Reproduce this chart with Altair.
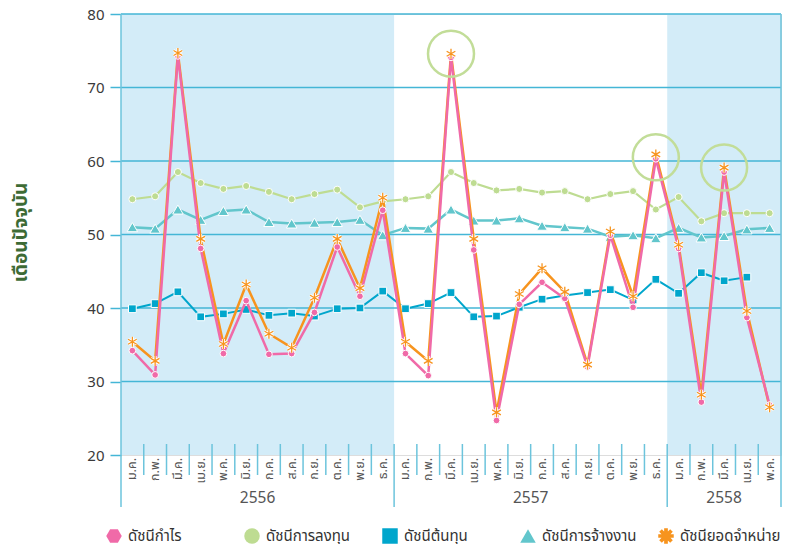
import math
import altair as alt
import pandas as pd

months = ["ม.ค.", "ก.พ.", "มี.ค.", "เม.ย.", "พ.ค.", "มิ.ย.", "ก.ค.", "ส.ค.", "ก.ย.", "ต.ค.", "พ.ย.", "ธ.ค."]
month_labels = months + months + months[:5]
years = ["2556", "2557", "2558"]
year_start = [0, 12, 24]
year_end = [12, 24, 29]

series_names = ["ดัชนีกำไร", "ดัชนีการลงทุน", "ดัชนีต้นทุน", "ดัชนีการจ้างงาน", "ดัชนียอดจำหน่าย"]

profit = [34.2, 30.9, 74.3, 48.1, 33.8, 41.0, 33.7, 33.8, 39.4, 48.3, 41.6, 53.3,
          33.8, 30.8, 74.1, 47.9, 24.7, 40.5, 43.5, 41.3, 32.0, 49.9, 40.1, 60.3,
          48.1, 27.2, 58.5, 38.7, 26.8]
sales = [35.4, 32.8, 74.7, 49.4, 35.1, 43.2, 36.5, 34.6, 41.4, 49.4, 42.7, 55.0,
         35.4, 32.8, 74.6, 49.4, 25.8, 41.9, 45.4, 42.2, 32.3, 50.4, 41.6, 60.9,
         48.6, 28.2, 59.1, 39.6, 26.5]
investment = [54.8, 55.2, 58.5, 57.0, 56.2, 56.6, 55.8, 54.8, 55.5, 56.1, 53.7, 54.5,
              54.8, 55.2, 58.5, 57.0, 56.0, 56.2, 55.7, 55.9, 54.8, 55.5, 55.9, 53.4,
              55.1, 51.8, 52.9, 52.9, 52.9]
employment = [51.0, 50.8, 53.4, 52.0, 53.2, 53.4, 51.7, 51.5, 51.6, 51.7, 52.0, 49.9,
              50.9, 50.8, 53.4, 51.9, 51.9, 52.2, 51.2, 51.0, 50.8, 49.7, 49.9, 49.5,
              50.9, 49.6, 49.8, 50.7, 50.9]
cost = [39.9, 40.6, 42.2, 38.8, 39.2, 39.8, 39.0, 39.3, 38.9, 39.9, 40.0, 42.3,
        39.9, 40.6, 42.1, 38.8, 38.9, 40.1, 41.2, 41.7, 42.1, 42.5, 41.1, 43.9,
        42.0, 44.8, 43.7, 44.2, None]

highlight_idx = [14, 23, 26]
highlight_val = [74.6, 60.5, 59.1]

grid_values = [30, 40, 50, 60, 70, 80]
y_ticks = [20, 30, 40, 50, 60, 70, 80]

PINK = "#f06aa8"
GREEN = "#bedc92"
BLUE = "#00a6cc"
TEAL = "#62c6cc"
ORANGE = "#f7941e"
BAND = "#d3ecf8"
GRID = "#44b6d6"
TICKC = "#6cc4dc"
FONT = "Noto Sans Thai, Noto Sans, sans-serif"
LATIN = "Noto Sans"

H = 441
n = len(month_labels)
xs = [i + 0.5 for i in range(n)]

def frame(vals):
    return pd.DataFrame({"x": xs, "v": vals})

X = alt.Scale(domain=[0, n], nice=False, zero=False)
Y = alt.Scale(domain=[20, 80], nice=False, zero=False)

AX = alt.Axis(labels=False, grid=False, ticks=False, domain=False, title=None)
AY = alt.Axis(
    values=y_ticks, grid=False, tickSize=11, tickColor=GRID, tickWidth=1.5,
    domain=False, labelFontSize=15, labelFont=LATIN, labelColor="#3a3a3a", labelPadding=6,
    title="เดือนปัจจุบัน", titleColor="#3d6b35", titleFontSize=19,
    titleFontWeight="bold", titleAngle=270, titleX=-101, titleY=218,
    titleAlign="center", titleBaseline="middle")

def xq(field):
    return alt.X(field, scale=X, axis=AX)

def yq(field):
    return alt.Y(field, scale=Y, axis=AY)

# background bands
bands = pd.DataFrame({"s": [year_start[0], year_start[2]], "e": [year_end[0], year_end[2]]})
band_layer = alt.Chart(bands).mark_rect(color=BAND).encode(
    x=xq("s:Q"), x2="e:Q", y=yq("top:Q"), y2="bot:Q",
).transform_calculate(top="80", bot="20")

grid_layer = alt.Chart(pd.DataFrame({"g": grid_values})).mark_rule(
    color=GRID, strokeWidth=1.5).encode(
    y=yq("g:Q"), x=alt.datum(0), x2=alt.datum(n))

bounds = list(range(n + 1))
edges = [b for b in bounds if b in (0, n)]
seps = [b for b in bounds if b in year_start[1:]]
minor = [b for b in bounds if b not in edges and b not in seps]

edge_layer = alt.Chart(pd.DataFrame({"b": edges})).mark_rule(color=TICKC, strokeWidth=1.5).encode(
    x=xq("b:Q"), y=alt.value(0), y2=alt.value(H + 52))
sep_layer = alt.Chart(pd.DataFrame({"b": seps})).mark_rule(color=TICKC, strokeWidth=1.5).encode(
    x=xq("b:Q"), y=alt.value(H - 11), y2=alt.value(H + 52))
minor_layer = alt.Chart(pd.DataFrame({"b": minor})).mark_rule(color=TICKC, strokeWidth=1.5).encode(
    x=xq("b:Q"), y=alt.value(H - 11), y2=alt.value(H + 20))

mdf = pd.DataFrame({"x": xs, "m": month_labels})
month_layer = alt.Chart(mdf).mark_text(
    angle=270, align="right", baseline="middle", fontSize=12.5, color="#555555").encode(
    x=xq("x:Q"), y=alt.value(H + 3), text="m:N")

ydf = pd.DataFrame({"year": years, "mid": [(a + b) / 2 for a, b in zip(year_start, year_end)]})
year_layer = alt.Chart(ydf).mark_text(fontSize=15.5, font=LATIN, color="#555555", baseline="middle").encode(
    x=xq("mid:Q"), y=alt.value(H + 43), text="year:N")

def line(vals, color, width):
    return alt.Chart(frame(vals)).mark_line(color=color, strokeWidth=width).encode(
        x=xq("x:Q"), y=yq("v:Q"))

def pts(vals, shape, size, color, sw=1.0):
    return alt.Chart(frame(vals)).mark_point(
        shape=shape, size=size, filled=True, fill=color, stroke="white",
        strokeWidth=sw, opacity=1).encode(x=xq("x:Q"), y=yq("v:Q"))

ast_path = "M0,-1L0,1M-0.87,-0.5L0.87,0.5M-0.87,0.5L0.87,-0.5"
ast_halo = alt.Chart(frame(sales)).mark_point(
    shape=ast_path, size=100, filled=False, stroke="white", strokeWidth=3, opacity=1).encode(
    x=xq("x:Q"), y=yq("v:Q"))
ast = alt.Chart(frame(sales)).mark_point(
    shape=ast_path, size=100, filled=False, stroke=ORANGE, strokeWidth=1.3, opacity=1).encode(
    x=xq("x:Q"), y=yq("v:Q"))

hl = alt.Chart(pd.DataFrame({"x": [i + 0.5 for i in highlight_idx], "v": highlight_val})).mark_point(
    shape="circle", size=2116, filled=False, stroke="#c2dd98", strokeWidth=2.5, opacity=1).encode(
    x=xq("x:Q"), y=yq("v:Q"))

# legend shapes
hexagon = "M1,0L0.5,0.87L-0.5,0.87L-1,0L-0.5,-0.87L0.5,-0.87Z"
pts_star = []
arms = 8
w = 0.24
rin = w / math.sin(math.pi / arms)
for k in range(arms):
    t = math.pi / 2 + k * 2 * math.pi / arms
    dx, dy = math.cos(t), math.sin(t)
    px, py = -math.sin(t), math.cos(t)
    pts_star.append((dx - px * w, dy - py * w))
    pts_star.append((dx + px * w, dy + py * w))
    ti = t + math.pi / arms
    pts_star.append((rin * math.cos(ti), rin * math.sin(ti)))
star = "M" + "L".join(f"{a:.3f},{b:.3f}" for a, b in pts_star) + "Z"

legend_df = pd.DataFrame({"series": series_names, "x": [None] * 5, "v": [None] * 5})
legend_layer = alt.Chart(legend_df).mark_point(filled=True, opacity=1, invalid="filter").encode(
    x=xq("x:Q"), y=yq("v:Q"),
    color=alt.Color("series:N", scale=alt.Scale(domain=series_names,
                                                range=[PINK, GREEN, BLUE, TEAL, ORANGE]),
                    legend=alt.Legend(title=None, orient="none", direction="horizontal",
                                      columns=5, legendX=-15, legendY=H + 73,
                                      gridAlign="all", columnPadding=15,
                                      symbolSize=240, symbolStrokeWidth=0,
                                      symbolOpacity=1, labelFontSize=15,
                                      labelColor="#333333", labelOffset=6,
                                      labelLimit=0, padding=0)),
    shape=alt.Shape("series:N", scale=alt.Scale(domain=series_names,
                                                range=[hexagon, "circle", "square", "triangle-up", star])),
)

chart = alt.layer(
    band_layer, grid_layer, edge_layer, sep_layer, minor_layer, month_layer, year_layer,
    line(investment, GREEN, 2.2), pts(investment, "circle", 50, GREEN),
    line(employment, TEAL, 2.5), pts(employment, "triangle-up", 110, TEAL),
    line(cost, BLUE, 2), pts(cost, "square", 60, BLUE),
    line(sales, ORANGE, 2.5),
    line(profit, PINK, 2.5), pts(profit, "circle", 45, PINK),
    ast_halo, ast, hl, legend_layer,
).properties(
    width=660, height=H,
    autosize=alt.AutoSizeParams(type="none"),
    padding={"left": 113, "top": 6, "right": 2, "bottom": 89},
).configure_view(stroke=None).configure(font=FONT)

chart.save("out.html", embed_options={"renderer": "svg", "actions": False})
